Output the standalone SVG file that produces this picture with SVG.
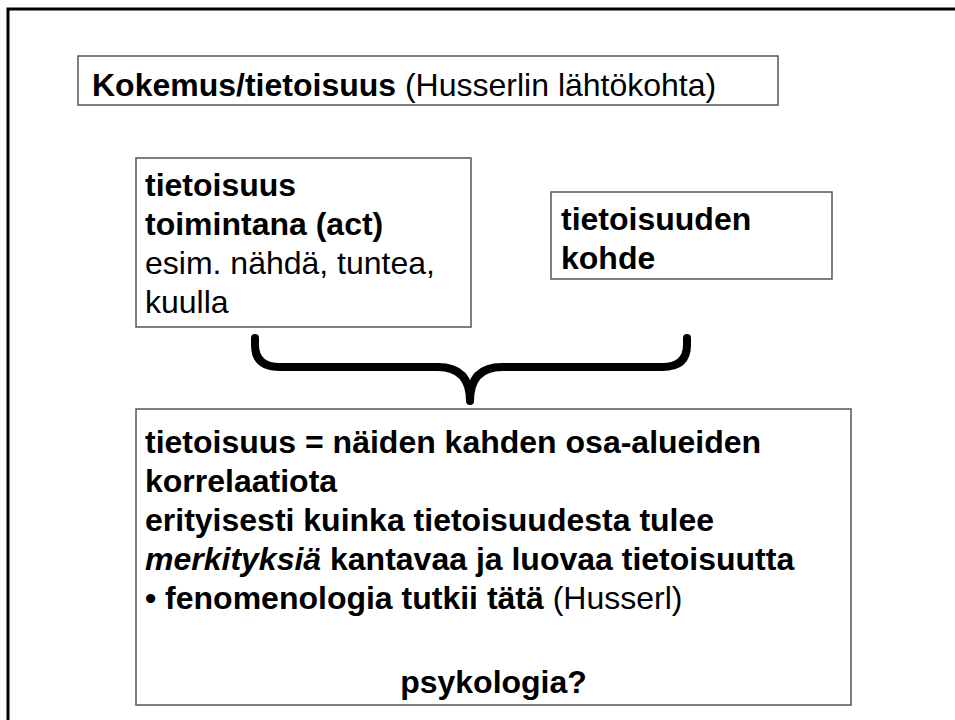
<svg xmlns="http://www.w3.org/2000/svg" width="955" height="720" viewBox="0 0 955 720">
<style>
  text { font-family: "Liberation Sans", Arial, sans-serif; font-size: 32px; fill: #000; }
  .b { font-weight: bold; }
  .bi { font-weight: bold; font-style: italic; }
  .box { fill: #fff; stroke: #555; stroke-width: 1.5; }
  .frame { fill: none; stroke: #000; stroke-width: 3; }
  .brace { fill: none; stroke: #000; stroke-width: 8; stroke-linecap: round; stroke-linejoin: round; }
</style>
<rect width="955" height="720" fill="#fff"/>
<rect class="frame" x="8" y="9" width="970" height="730"/>

<g id="title">
  <rect class="box" x="78" y="56" width="700" height="49"/>
  <text x="92" y="96"><tspan class="b">Kokemus/tietoisuus</tspan> (Husserlin lähtökohta)</text>
</g>

<g id="box-act">
  <rect class="box" x="136" y="158" width="335" height="169"/>
  <text class="b" x="145" y="196">tietoisuus</text>
  <text class="b" x="145" y="235">toimintana (act)</text>
  <text x="145" y="274">esim. nähdä, tuntea,</text>
  <text x="145" y="313">kuulla</text>
</g>

<g id="box-object">
  <rect class="box" x="551" y="192" width="281" height="87"/>
  <text class="b" x="561" y="230">tietoisuuden</text>
  <text class="b" x="561" y="269">kohde</text>
</g>

<g id="connectors">
  <path class="brace" d="M255,338 L255,345 Q255,367 280,367 L438,367 Q470,367 470,401 Q470,367 502,367 L662,367 Q687,367 687,345 L687,338"/>
</g>

<g id="box-correlation">
  <rect class="box" x="136" y="409" width="715" height="296"/>
  <text class="b" x="145" y="453">tietoisuus = näiden kahden osa-alueiden</text>
  <text class="b" x="145" y="492">korrelaatiota</text>
  <text class="b" x="145" y="531">erityisesti kuinka tietoisuudesta tulee</text>
  <text x="145" y="570"><tspan class="bi">merkityksiä</tspan><tspan class="b"> kantavaa ja luovaa tietoisuutta</tspan></text>
  <text x="145" y="609"><tspan class="b">• fenomenologia tutkii tätä</tspan> (Husserl)</text>
  <text class="b" x="493.5" y="693" text-anchor="middle">psykologia?</text>
</g>
</svg>
